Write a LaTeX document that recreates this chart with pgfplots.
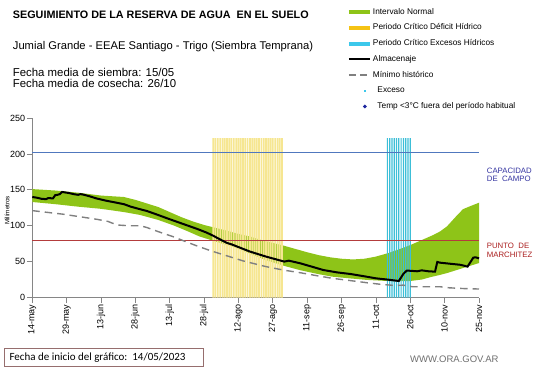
\documentclass[border=0pt]{standalone}
\usepackage{fontspec}
\setmainfont{Liberation Sans}
\newfontfamily\calibri{Carlito}
\usepackage{pgfplots}
\pgfplotsset{compat=1.18}
\usepgfplotslibrary{fillbetween}
\definecolor{verde}{RGB}{142,196,24}
\definecolor{yelline}{RGB}{246,230,145}
\definecolor{yelleg}{RGB}{245,195,20}
\definecolor{cyline}{RGB}{60,190,215}
\definecolor{cyleg}{RGB}{60,200,235}
\definecolor{blueh}{RGB}{80,120,190}
\definecolor{redh}{RGB}{180,60,60}
\definecolor{minigray}{RGB}{128,128,128}
\definecolor{axgray}{RGB}{134,134,134}
\definecolor{captext}{RGB}{51,51,160}
\definecolor{puntotext}{RGB}{170,30,30}
\definecolor{boxcol}{RGB}{150,110,110}
\definecolor{wwwcol}{RGB}{110,110,110}
\definecolor{diamcol}{RGB}{30,40,160}
\begin{document}
\begin{tikzpicture}
\path (0pt,0pt) rectangle (541pt,368pt);
% titles
\node[anchor=base west, inner sep=0pt, font=\fontsize{10.8}{12}\selectfont\bfseries] at (12.7pt,349pt) {SEGUIMIENTO DE LA RESERVA DE AGUA\ \ EN EL SUELO};
\node[anchor=base west, inner sep=0pt, font=\fontsize{11.2}{12}\selectfont] at (12.7pt,319pt) {Jumial Grande - EEAE Santiago - Trigo (Siembra Temprana)};
\node[anchor=base west, inner sep=0pt, font=\fontsize{11.4}{12}\selectfont] at (12.7pt,291.3pt) {Fecha media de siembra: 15/05};
\node[anchor=base west, inner sep=0pt, font=\fontsize{11.4}{12}\selectfont] at (12.7pt,280.3pt) {Fecha media de cosecha: 26/10};
% right labels
\node[anchor=base west, inner sep=0pt, font=\fontsize{7.8}{9}\selectfont, text=captext] at (486.7pt,194.7pt) {CAPACIDAD};
\node[anchor=base west, inner sep=0pt, font=\fontsize{7.8}{9}\selectfont, text=captext] at (486.7pt,186.3pt) {DE\ \ CAMPO};
\node[anchor=base west, inner sep=0pt, font=\fontsize{7.8}{9}\selectfont, text=puntotext] at (486.7pt,119.3pt) {PUNTO\ \ DE};
\node[anchor=base west, inner sep=0pt, font=\fontsize{7.8}{9}\selectfont, text=puntotext] at (486.7pt,110.3pt) {MARCHITEZ};
% bottom box
\draw[boxcol, line width=0.8pt] (4.5pt,1.3pt) rectangle (203pt,19.7pt);
\node[anchor=base west, inner sep=0pt, font=\calibri\fontsize{11}{12}\selectfont] at (9.3pt,7.3pt) {Fecha de inicio del gráfico:\ \ 14/05/2023};
\node[anchor=base west, inner sep=0pt, font=\fontsize{9.5}{10}\selectfont, text=wwwcol] at (410pt,5.3pt) {WWW.ORA.GOV.AR};
\begin{axis}[
  at={(32.3pt,70.5pt)}, anchor=south west,
  width=446.7pt, height=179.5pt, scale only axis,
  xmin=0, xmax=195, ymin=0, ymax=250,
  axis lines=left,
  axis line style={-, draw=axgray, line width=0.8pt},
  tick align=outside,
  major tick length=5.5pt,
  tick style={axgray, line width=0.8pt},
  xtick={0,15,...,195},
  xticklabels={14-may,29-may,13-jun,28-jun,13-jul,28-jul,12-ago,27-ago,11-sep,26-sep,11-oct,26-oct,10-nov,25-nov},
  xticklabel style={rotate=90, anchor=east, font=\fontsize{9}{10}\selectfont, inner sep=1.5pt},
  ytick={0,50,...,250},
  yticklabel style={font=\fontsize{9}{10}\selectfont, inner sep=1.5pt},
  /pgf/number format/assume math mode=true,
  ylabel={Milímetros},
  ylabel style={at={(axis description cs:-0.0566,0.485)}, anchor=center, font=\fontsize{6.3}{7}\selectfont, inner sep=0pt},
  clip=false,
  legend style={draw=none, fill=none, at={(0.7038,1.6128)}, anchor=north west,
    font=\fontsize{8.3}{9}\selectfont, row sep=7.7pt, inner sep=0pt,
    nodes={inner sep=0.5pt, text height=5.5pt, text depth=1.5pt}},
  legend cell align=left,
]
% green band
\addplot[name path=top, draw=none, forget plot] coordinates {
(0,151) (10,149) (20,146) (30,142) (35,141) (40,140) (45,136) (50,131) (55,126) (60,119) (65,112) (70,106) (75,101) (80,97) (85,93) (90,88.5) (95,85) (100,80) (105,76) (110,72) (115,67.5) (120,63) (125,59) (130,56) (135,54) (140,53) (145,54) (150,57) (155,61.5) (160,67) (165,73) (170,80) (175,87) (178,92) (181,99) (183,106) (185,113) (188,123) (191,127) (195,132)};
\addplot[name path=bot, draw=none, forget plot] coordinates {
(0,133) (10,130) (20,126.5) (30,123.5) (40,119) (47,115) (55,108) (62,100) (68,92) (73,85) (78,80) (83,75) (88,70.5) (95,61) (102,52) (110,44) (117,38) (125,32.5) (131,29) (139,26.5) (146,24.5) (152,23.5) (158,22.5) (165,23) (170,25) (174,28.5) (178,31.5) (181,34) (185,38) (188,41) (192,45) (195,48)};
\addplot[verde, draw=none, forget plot] fill between[of=top and bot];
% critical periods (thin filled bars)
\addplot[ybar, bar width=1.7pt, bar shift=0pt, fill=yelline, draw=none, forget plot] coordinates {
(79,222) (80,222) (81,222) (82,222) (83,222) (84,222) (85,222) (86,222) (87,222) (88,222) (89,222) (90,222) (91,222) (92,222) (93,222) (94,222) (95,222) (96,222) (97,222) (98,222) (99,222) (100,222) (101,222) (102,222) (103,222) (104,222) (105,222) (106,222) (107,222) (108,222) (109,222)};
\addplot[ybar, bar width=1.2pt, bar shift=0pt, fill=cyline, draw=none, forget plot] coordinates {
(155,222) (156,222) (157,222) (158,222) (159,222) (160,222) (161,222) (162,222) (163,222) (164,222) (165,222)};
% reference lines
\addplot[blueh, line width=1pt, forget plot] coordinates {(0,202.65) (195,202.65)};
\addplot[redh, line width=1pt, forget plot] coordinates {(0,80) (195,80)};
% minimo historico
\addplot[minigray, line width=1.4pt, dash pattern=on 7.5pt off 5pt, forget plot] coordinates {
(0,121) (13.5,116) (28,109) (33,106) (37,101) (42,100) (47,100) (50,97.5) (53,94) (57,89.5) (61.5,84.7) (66,79) (72,71.7) (78,65) (86,57) (92,51) (102,43) (110,38) (117,34.5) (124,30.5) (131,26.7) (139,23.5) (146,20.6) (152,18.4) (158,16.8) (162,17.2) (166,15) (178,15) (182,13.5) (188,12.5) (195,11.8)};
% almacenaje
\addplot[black, line width=2pt, forget plot] coordinates {
(0,140) (2,139) (4,137.5) (6,137) (7,138.5) (9,138) (10,142.5) (11,143) (12,144) (13,147) (14,146.5) (16,145.5) (18,144) (20,143) (21,144) (22,143.5) (25,141) (28,138) (32,135) (36,132.5) (40,130) (43,126.5) (47,123) (50,120.5) (54,116) (57,112.5) (60,109) (64,104.5) (68,100) (72,95.5) (76,90.5) (79,86) (81,82.5) (85,76) (87,74) (95,64) (102,57) (110,50) (112,51.3) (117,47.6) (122,43) (127,38.3) (133,35) (139,32.7) (145,29.5) (150,26.7) (155,25) (160,23) (162,33) (163.5,37.5) (166,37) (168,36.5) (170,37.8) (173,36.5) (175.8,36) (176.8,49.5) (178,48.5) (181,47.5) (184,46.5) (187,45.5) (190,43) (192.5,55.5) (193.5,56) (195,54.5)};
% legend
\addlegendimage{legend image code/.code={\draw[verde, line width=4pt] (0pt,0pt) -- (21.6pt,0pt);}}
\addlegendentry{Intervalo Normal}
\addlegendimage{legend image code/.code={\draw[yelleg, line width=4pt] (0pt,0pt) -- (21.6pt,0pt);}}
\addlegendentry{Periodo Crítico Déficit Hídrico}
\addlegendimage{legend image code/.code={\draw[cyleg, line width=4pt] (0pt,0pt) -- (21.6pt,0pt);}}
\addlegendentry{Periodo Crítico Excesos Hídricos}
\addlegendimage{legend image code/.code={\draw[black, line width=1.8pt] (0pt,0pt) -- (21.6pt,0pt);}}
\addlegendentry{Almacenaje}
\addlegendimage{legend image code/.code={\draw[minigray, line width=1.4pt, dash pattern=on 7pt off 4pt] (0pt,0pt) -- (21.6pt,0pt);}}
\addlegendentry{Mínimo histórico}
\addlegendimage{legend image code/.code={\path[draw=none] (0pt,0pt) -- (21.6pt,0pt); \fill[cyleg, draw=none] (14.8pt,-1.2pt) rectangle (17.2pt,1.2pt);}}
\addlegendentry{\hspace{4.5pt}Exceso}
\addlegendimage{legend image code/.code={\path[draw=none] (0pt,0pt) -- (21.6pt,0pt); \fill[diamcol, draw=none] (16pt,-2pt) -- (18pt,0pt) -- (16pt,2pt) -- (14pt,0pt) -- cycle;}}
\addlegendentry{\hspace{4.5pt}Temp <3°C fuera del período habitual}
\end{axis}
\end{tikzpicture}
\end{document}
